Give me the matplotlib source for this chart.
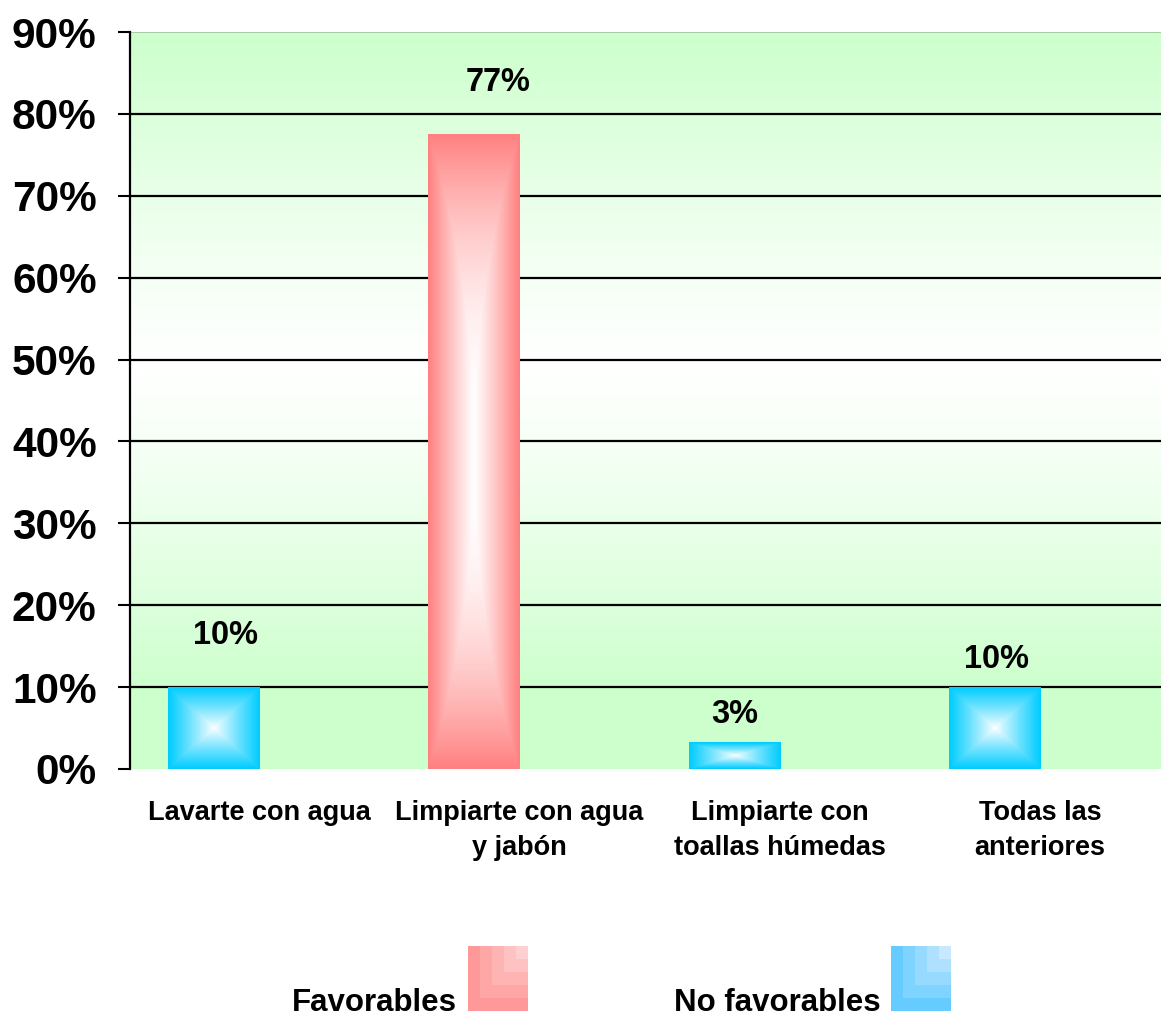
import numpy as np
import matplotlib
matplotlib.use('Agg')
import matplotlib.pyplot as plt
from matplotlib.colors import to_rgb
from matplotlib.ticker import PercentFormatter
from matplotlib.transforms import ScaledTranslation

plt.rcParams['font.family'] = ['Liberation Sans', 'DejaVu Sans']
plt.rcParams['font.weight'] = 'bold'

categories = ['Lavarte con agua', 'Limpiarte con agua\ny jabón',
              'Limpiarte con\ntoallas húmedas', 'Todas las\nanteriores']
values = [0.10, 0.775, 0.032, 0.10]
labels = ['10%', '77%', '3%', '10%']
favorable = [False, True, False, False]
legend_names = ['Favorables', 'No favorables']

RED = '#FF8080'
BLUE = '#00CCFF'
GREEN = '#CCFFCC'

fig = plt.figure(figsize=(11.61, 10.16), dpi=100)
ax = fig.add_axes([130 / 1161, 247 / 1016, 1031 / 1161, 737 / 1016])

xlim = (-0.323, 3.638)
ylim = (0, 0.9)
ax.set_xlim(*xlim)
ax.set_ylim(*ylim)

# background: green at top and bottom, white in the middle
yy = np.linspace(0, 1, 300)[:, None]
t = np.clip(np.abs(yy - 0.55) / 0.45, 0, 1) ** 1.2
g = np.array(to_rgb(GREEN))
bg = (1 - t)[..., None] * np.ones(3) + t[..., None] * g
bg = np.repeat(bg, 2, axis=1)
ax.imshow(bg, extent=[xlim[0], xlim[1], 0, 0.9], origin='lower',
          aspect='auto', zorder=0, interpolation='bilinear')

for yv in np.arange(0.1, 0.85, 0.1):
    ax.axhline(yv, color='black', lw=1.6, zorder=1)
ax.axhline(0.9, color='#A0C0A0', lw=1.2, zorder=1)


def bar_gradient(w_px, h_px, edge, tall):
    u = np.linspace(-1, 1, max(int(w_px), 2))[None, :]
    v = np.linspace(-1, 1, max(int(h_px), 2))[:, None]
    if tall:
        d = np.maximum(np.abs(u) ** 1.2, np.abs(v) ** 2.6)
    else:
        d = np.maximum(np.abs(u), np.abs(v))
    d = np.clip(d, 0, 1) ** 0.9
    c = np.array(to_rgb(edge))
    return (1 - d)[..., None] * np.ones(3) + d[..., None] * c


width = 0.353
bars = ax.bar(range(len(values)), values, width=width, color='none',
              edgecolor='none', zorder=2)
for b, fav in zip(bars, favorable):
    x0, w, h = b.get_x(), b.get_width(), b.get_height()
    img = bar_gradient(92, h / 0.9 * 737, RED if fav else BLUE, fav)
    ax.imshow(img, extent=[x0, x0 + w, 0, h], origin='lower', aspect='auto',
              zorder=2, interpolation='bilinear')

# label offsets in points (x, y)
offsets = [(8, 31), (17, 31), (0, 14), (1, 14)]
for i, (v, lab) in enumerate(zip(values, labels)):
    ax.annotate(lab, (i, v), xytext=offsets[i], textcoords='offset points',
                ha='center', va='baseline', fontsize=23.5, fontweight='bold')

ax.set_xlim(*xlim)
ax.set_ylim(*ylim)
ax.set_yticks(np.arange(0, 0.91, 0.1))
ax.yaxis.set_major_formatter(PercentFormatter(1.0, decimals=0))
ax.tick_params(axis='y', direction='out', length=9, width=1.5,
               labelsize=30.5, pad=15)
ax.set_xticks(range(len(categories)))
ax.set_xticklabels(categories, fontsize=19.5, fontweight='bold', linespacing=1.45)
ax.tick_params(axis='x', length=0, pad=22)
shift = ScaledTranslation(0.45, 0, fig.dpi_scale_trans)
for lbl in ax.get_xticklabels():
    lbl.set_transform(lbl.get_transform() + shift)
for s in ['top', 'right', 'bottom']:
    ax.spines[s].set_visible(False)
ax.spines['left'].set_linewidth(1.6)


def step_square(base, light, n=5):
    base = np.array(to_rgb(base))
    light = np.array(to_rgb(light))
    ii, jj = np.meshgrid(np.arange(n), np.arange(n))
    lvl = np.minimum(ii, jj) / (n - 1)
    return (1 - lvl)[..., None] * base + lvl[..., None] * light


legend_sq = [(468, '#FF9999', '#FFD0D0'), (891, '#66CCFF', '#C8E8FF')]
legend_txt_x = [457, 881]
for name, (sx, c0, c1), tx in zip(legend_names, legend_sq, legend_txt_x):
    lax = fig.add_axes([sx / 1161, 5 / 1016, 60 / 1161, 65 / 1016])
    lax.imshow(step_square(c0, c1), origin='lower', aspect='auto',
               interpolation='nearest')
    lax.axis('off')
    fig.text(tx / 1161, 5 / 1016, name, ha='right', va='baseline',
             fontsize=22.5, fontweight='bold')

fig.savefig('out.png', dpi=100)
